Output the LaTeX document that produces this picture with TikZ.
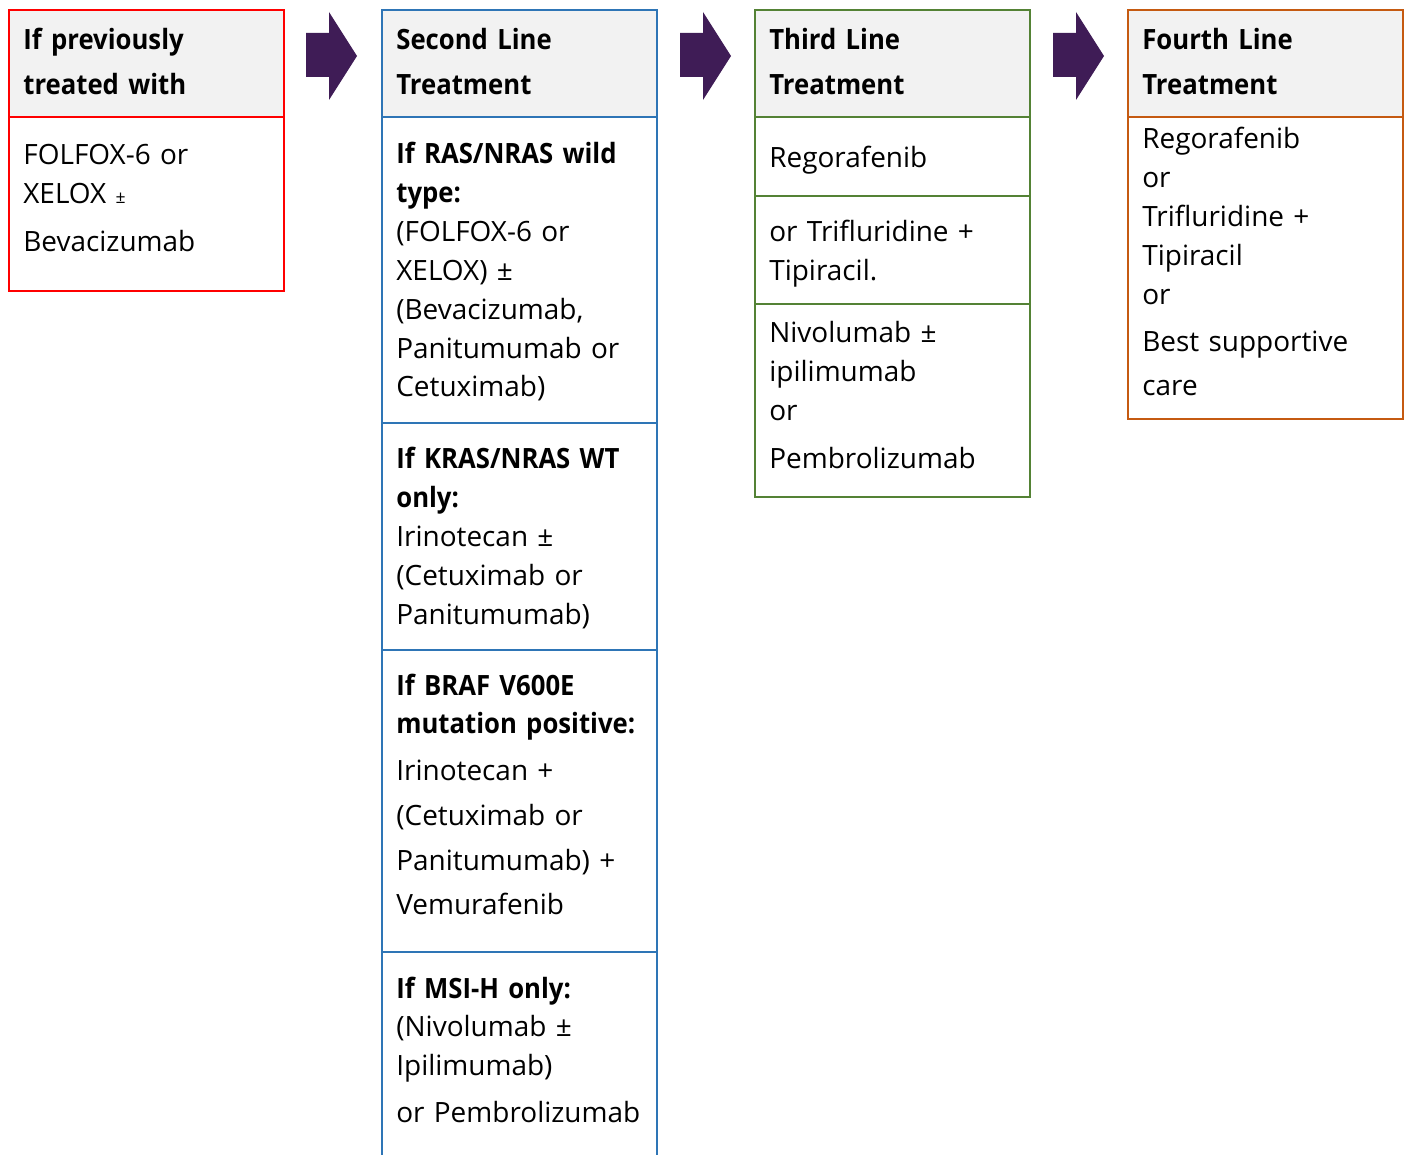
\documentclass[tikz,border=0pt]{standalone}
\usepackage{fontspec}
\setmainfont{Open Sans}[BoldFeatures={FakeStretch=0.92}]
\usepackage{xcolor}
\usepackage{tikz}
\usetikzlibrary{positioning}

\definecolor{linered}{HTML}{FF0000}
\definecolor{lineblue}{HTML}{2E75B6}
\definecolor{linegreen}{HTML}{548235}
\definecolor{lineorange}{HTML}{C55A11}
\definecolor{headgray}{HTML}{F2F2F2}
\definecolor{arrowpurple}{HTML}{3F1C56}
\hyphenpenalty=10000

\begin{document}
\begin{tikzpicture}[
				x=0.02cm, y=-0.02cm,
				head/.style={draw, line width=1.1pt, fill=headgray, anchor=north west, inner sep=0pt, minimum width=5.5cm, minimum height=2.14cm},
				cell/.style={draw, line width=1.1pt, anchor=north west, inner sep=0pt, minimum width=5.5cm},
				headtext/.style={anchor=base west, inner sep=0pt, text width=5.3cm, align=left, font=\fontsize{15.9}{25.5}\selectfont\bfseries},
				celltext/.style={anchor=base west, inner sep=0pt, text width=5.3cm, align=left, font=\fontsize{15.9}{22.1}\selectfont},
				blockarrow/.style={fill=arrowpurple, draw=none}
			]
			\useasboundingbox (0,0) rectangle (1407,1155);
			\clip (0,0) rectangle (1407,1155);

			% Previously treated
			\node[head, draw=linered] (h1) at (8,9) {};
			\node[cell, draw=linered, minimum height=3.48cm] (c1) at (8,116) {};
			\node[headtext] (h1t) at (23,50) {If previously\\treated with};
			\node[celltext] (c1t) at (23,165) {FOLFOX-6 or\\XELOX {\fontsize{10}{10}\selectfont ±}\\[5pt]Bevacizumab};

			% Second line
			\node[head, draw=lineblue] (h2) at (381,9) {};
			\node[cell, draw=lineblue, minimum height=6.12cm] (c2a) at (381,116) {};
			\node[cell, draw=lineblue, minimum height=4.54cm] (c2b) at (381,422) {};
			\node[cell, draw=lineblue, minimum height=6.04cm] (c2c) at (381,649) {};
			\node[cell, draw=lineblue, minimum height=4.4cm] (c2d) at (381,951) {};
			\node[headtext] (h2t) at (396,50) {Second Line\\Treatment};
			\node[celltext] (c2at) at (396,164) {\textbf{If RAS/NRAS wild}\\\textbf{type:}\\(FOLFOX-6 or\\XELOX) ±\\(Bevacizumab,\\Panitumumab or\\Cetuximab)};
			\node[celltext] (c2bt) at (396,469) {\textbf{If KRAS/NRAS WT}\\\textbf{only:}\\Irinotecan ±\\(Cetuximab or\\Panitumumab)};
			\node[celltext] (c2ct) at (396,695) {\textbf{If BRAF V600E}\\\textbf{mutation positive:}\\[4.5pt]Irinotecan +\\[3.4pt](Cetuximab or\\[3.4pt]Panitumumab) +\\[3.4pt]Vemurafenib};
			\node[celltext] (c2dt) at (396,998) {\textbf{If MSI-H only:}\\(Nivolumab ±\\Ipilimumab)\\[4.5pt]or Pembrolizumab};

			% Third line
			\node[head, draw=linegreen] (h3) at (754,9) {};
			\node[cell, draw=linegreen, minimum height=1.58cm] (c3a) at (754,116) {};
			\node[cell, draw=linegreen, minimum height=2.16cm] (c3b) at (754,195) {};
			\node[cell, draw=linegreen, minimum height=3.86cm] (c3c) at (754,303) {};
			\node[headtext] (h3t) at (769,50) {Third Line\\Treatment};
			\node[celltext] (c3at) at (769,168) {Regorafenib};
			\node[celltext] (c3bt) at (769,242) {or Trifluridine +\\Tipiracil.};
			\node[celltext] (c3ct) at (769,343) {Nivolumab ±\\ipilimumab\\or\\[5pt]Pembrolizumab};

			% Fourth line
			\node[head, draw=lineorange] (h4) at (1127,9) {};
			\node[cell, draw=lineorange, minimum height=6.04cm] (c4) at (1127,116) {};
			\node[headtext] (h4t) at (1142,50) {Fourth Line\\Treatment};
			\node[celltext] (c4t) at (1142,149) {Regorafenib\\or\\Trifluridine +\\Tipiracil\\or\\[4.5pt]Best supportive\\[3.4pt]care};

			% Block arrows between columns
			\foreach \ax in {306,680,1053}
				\fill[blockarrow] (\ax,33) -- (\ax+23,33) -- (\ax+23,12) -- (\ax+51,56) -- (\ax+23,100) -- (\ax+23,77) -- (\ax,77) -- cycle;

		\end{tikzpicture}
\end{document}
